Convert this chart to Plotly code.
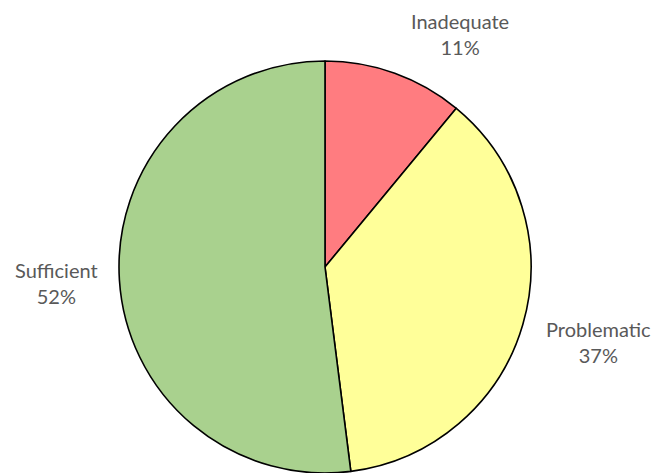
import plotly.graph_objects as go

categories = ["Inadequate", "Problematic", "Sufficient"]
values = [11, 37, 52]
colors = ["#FF7C80", "#FFFF99", "#A9D18E"]
pct_labels = ["11%", "37%", "52%"]

W, H = 654, 473
ml, mr, mt, mb = 0, 4, 61, 0
pw, ph = W - ml - mr, H - mt - mb

fig = go.Figure(go.Pie(
    labels=categories,
    values=values,
    sort=False,
    direction="clockwise",
    rotation=0,
    marker=dict(colors=colors, line=dict(color="#000000", width=1.6)),
    textinfo="none",
    hoverinfo="label+percent",
    showlegend=False,
    domain=dict(x=[0, 1], y=[0, 1]),
))

# label anchor positions (pixel centres in the picture)
label_px = {"Inadequate": (460, 34), "Problematic": (598, 342), "Sufficient": (56, 283)}
for cat, pct in zip(categories, pct_labels):
    px, py = label_px[cat]
    fig.add_annotation(
        x=(px - ml) / pw, y=(H - mb - py) / ph, xref="paper", yref="paper",
        text=f"{cat}<br>{pct}", showarrow=False,
        font=dict(family="Lato, Carlito, Calibri, sans-serif", size=20, color="#595959"),
        xanchor="center", yanchor="middle", align="center",
    )

fig.update_layout(
    width=W, height=H,
    margin=dict(l=ml, r=mr, t=mt, b=mb),
    paper_bgcolor="white", plot_bgcolor="white",
)

fig.write_html(
    "out.html",
    config={"displayModeBar": False},
    post_script="document.body.style.margin='0';document.body.style.overflow='hidden';",
)
